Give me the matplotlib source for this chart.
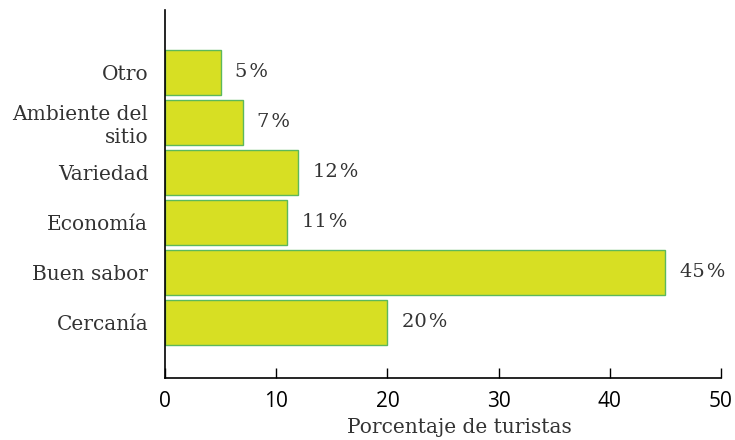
import matplotlib.pyplot as plt

# --- DATA ---
categories = ["Cercanía", "Buen sabor", "Economía", "Variedad", "Ambiente del\nsitio", "Otro"]
values = [20, 45, 11, 12, 7, 5]
x_ticks = [0, 10, 20, 30, 40, 50]

SERIF = "DejaVu Serif"
SANS = "Open Sans"

fig = plt.figure(figsize=(7.35, 4.4), dpi=100)
ax = fig.add_axes([0.2245, 0.1409, 0.7565, 0.8361])

pos = list(range(len(categories)))
ax.barh(pos, values, height=0.9, color="#d7df23", edgecolor="#5cb85c", linewidth=1)

for p, v in zip(pos, values):
    ax.annotate(f"{v}\u200a%", xy=(v, p), xytext=(10.5, 0), textcoords="offset points",
                va="center", ha="left", fontsize=14, family=SERIF, color="#333333")

ax.set_xlim(0, 50)
ax.set_ylim(-1.12, 6.24)
ax.set_xticks(x_ticks)
ax.set_xticklabels([str(t) for t in x_ticks], family=SANS, fontsize=15)
ax.set_yticks(pos)
ax.set_yticklabels(categories, family=SERIF, fontsize=14.5, color="#333333",
                   linespacing=1.25)
ax.tick_params(axis="y", length=0, pad=12)
ax.tick_params(axis="x", direction="in", length=7, width=1, pad=9)
ax.set_xlabel("Porcentaje de turistas", family=SERIF, fontsize=14.5, color="#333333",
              labelpad=5)
ax.xaxis.label.set_x(0.529)

for s in ["top", "right"]:
    ax.spines[s].set_visible(False)
for s in ["left", "bottom"]:
    ax.spines[s].set_linewidth(1.2)

fig.savefig("out.png", dpi=100)
